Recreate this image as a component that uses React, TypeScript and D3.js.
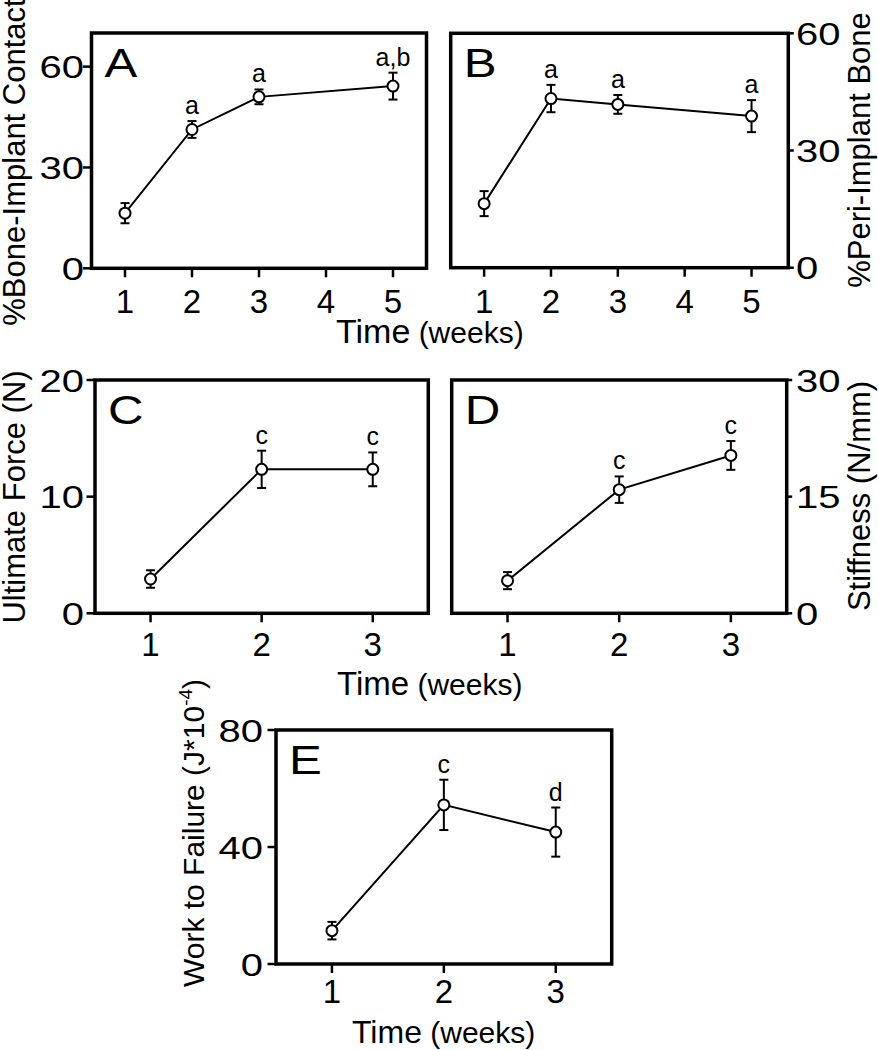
import React from "react";
import * as d3 from "d3";

// ---------- data ----------
const weeksAB = [1, 2, 3, 5];
const weeksCDE = [1, 2, 3];
const xTicksAB = [1, 2, 3, 4, 5];
const xTicksCDE = [1, 2, 3];

const boneContactMean = [16.4, 41.3, 51.0, 54.2];
const boneContactErr = [3.0, 2.5, 2.2, 4.0];
const boneContactSig = ["", "a", "a", "a,b"];

const periBoneMean = [16.4, 43.3, 41.8, 38.8];
const periBoneErr = [3.2, 3.5, 2.4, 4.1];
const periBoneSig = ["", "a", "a", "a"];

const forceMean = [2.94, 12.34, 12.34];
const forceErr = [0.75, 1.6, 1.45];
const forceSig = ["", "c", "c"];

const stiffMean = [4.2, 15.9, 20.3];
const stiffErr = [1.1, 1.7, 1.85];
const stiffSig = ["", "c", "c"];

const workMean = [11.4, 54.4, 45.1];
const workErr = [3.0, 8.6, 8.4];
const workSig = ["", "c", "d"];

const yTicksA = [0, 30, 60];
const yTicksB = [0, 30, 60];
const yTicksC = [0, 10, 20];
const yTicksD = [0, 15, 30];
const yTicksE = [0, 40, 80];

const FONT = "Arial, 'Liberation Sans', Helvetica, sans-serif";

type PanelProps = {
  frame: [number, number, number, number];
  xDomain: [number, number];
  xTicks: number[];
  yDomain: [number, number];
  yTicks: number[];
  side: "left" | "right";
  xs: number[];
  mean: number[];
  err: number[];
  sig: string[];
  letter: string;
  xTickBase: number;
  yLabelEnd: number;
};

function Panel(p: PanelProps) {
  const [l, t, r, b] = p.frame;
  const x = d3.scaleLinear().domain(p.xDomain).range([l, r]);
  const y = d3.scaleLinear().domain(p.yDomain).range([b, t]);
  const pts = p.xs.map((v, i) => [v, p.mean[i]] as [number, number]);
  const line = d3
    .line<[number, number]>()
    .x((d) => x(d[0]))
    .y((d) => y(d[1]));
  const axisX = p.side === "left" ? l : r;
  const tickDir = p.side === "left" ? -1 : 1;
  const tickLen = p.side === "left" ? 8.5 : 5.5;
  return (
    <g>
      <rect x={l} y={t} width={r - l} height={b - t} fill="none" stroke="#000" strokeWidth={3.5} />
      {p.yTicks.map((v) => (
        <g key={"yt" + v}>
          <line x1={axisX} x2={axisX + tickDir * tickLen} y1={y(v)} y2={y(v)} stroke="#000" strokeWidth={2.5} />
          <text
            transform={`translate(${p.yLabelEnd},${y(v) + 11.5}) scale(1.25,1)`}
            textAnchor={p.side === "left" ? "end" : "start"}
            fontFamily={FONT}
            fontSize={32}
          >
            {v}
          </text>
        </g>
      ))}
      {p.xTicks.map((v) => (
        <g key={"xt" + v}>
          <line x1={x(v)} x2={x(v)} y1={b} y2={b + 9} stroke="#000" strokeWidth={2.5} />
          <text x={x(v)} y={b + p.xTickBase} textAnchor="middle" fontFamily={FONT} fontSize={33}>
            {v}
          </text>
        </g>
      ))}
      <path d={line(pts) || ""} fill="none" stroke="#000" strokeWidth={2} />
      {pts.map((d, i) => {
        const cx = x(d[0]);
        const hi = y(d[1] + p.err[i]);
        const lo = y(d[1] - p.err[i]);
        return (
          <g key={"pt" + i}>
            <line x1={cx} x2={cx} y1={hi} y2={lo} stroke="#000" strokeWidth={2} />
            <line x1={cx - 4.5} x2={cx + 4.5} y1={hi} y2={hi} stroke="#000" strokeWidth={2} />
            <line x1={cx - 4.5} x2={cx + 4.5} y1={lo} y2={lo} stroke="#000" strokeWidth={2} />
            <circle cx={cx} cy={y(d[1])} r={5.5} fill="#fff" stroke="#000" strokeWidth={2} />
            {p.sig[i] ? (
              <text x={cx} y={hi - 7} textAnchor="middle" fontFamily={FONT} fontSize={25}>
                {p.sig[i]}
              </text>
            ) : null}
          </g>
        );
      })}
      <text
        transform={`translate(${l + 13},${t + 44}) scale(1.2,1)`}
        fontFamily={FONT}
        fontSize={41}
      >
        {p.letter}
      </text>
    </g>
  );
}

function TimeLabel({ x, y, fs }: { x: number; y: number; fs: number }) {
  return (
    <text x={x} y={y} fontFamily={FONT} fontSize={fs}>
      Time
      <tspan fontSize={30}> (weeks)</tspan>
    </text>
  );
}

export default function App() {
  return (
    <svg
      width={879}
      height={1050}
      style={{ position: "absolute", left: 0, top: 0, background: "#fff" }}
    >
      <rect x={0} y={0} width={879} height={1050} fill="#fff" />
      <Panel
        frame={[91.5, 33, 426.5, 268.3]}
        xDomain={[0.5, 5.5]}
        xTicks={xTicksAB}
        yDomain={[0, 70]}
        yTicks={yTicksA}
        side="left"
        xs={weeksAB}
        mean={boneContactMean}
        err={boneContactErr}
        sig={boneContactSig}
        letter="A"
        xTickBase={45}
        yLabelEnd={84}
      />
      <Panel
        frame={[450.7, 33.3, 788.3, 267.7]}
        xDomain={[0.5, 5.55]}
        xTicks={xTicksAB}
        yDomain={[0, 60]}
        yTicks={yTicksB}
        side="right"
        xs={weeksAB}
        mean={periBoneMean}
        err={periBoneErr}
        sig={periBoneSig}
        letter="B"
        xTickBase={45}
        yLabelEnd={796}
      />
      <Panel
        frame={[95, 380, 428.3, 613.3]}
        xDomain={[0.5, 3.5]}
        xTicks={xTicksCDE}
        yDomain={[0, 20]}
        yTicks={yTicksC}
        side="left"
        xs={weeksCDE}
        mean={forceMean}
        err={forceErr}
        sig={forceSig}
        letter="C"
        xTickBase={43}
        yLabelEnd={84}
      />
      <Panel
        frame={[451.7, 380, 786.7, 613.3]}
        xDomain={[0.5, 3.5]}
        xTicks={xTicksCDE}
        yDomain={[0, 30]}
        yTicks={yTicksD}
        side="right"
        xs={weeksCDE}
        mean={stiffMean}
        err={stiffErr}
        sig={stiffSig}
        letter="D"
        xTickBase={43}
        yLabelEnd={796}
      />
      <Panel
        frame={[276, 730, 611.7, 964]}
        xDomain={[0.5, 3.5]}
        xTicks={xTicksCDE}
        yDomain={[0, 80]}
        yTicks={yTicksE}
        side="left"
        xs={weeksCDE}
        mean={workMean}
        err={workErr}
        sig={workSig}
        letter="E"
        xTickBase={39}
        yLabelEnd={263}
      />

      {/* axis titles */}
      <text transform="translate(25,162) rotate(-90)" textAnchor="middle" fontFamily={FONT} fontSize={31}>
        %Bone-Implant Contact
      </text>
      <text transform="translate(870,150) rotate(-90)" textAnchor="middle" fontFamily={FONT} fontSize={31}>
        %Peri-Implant Bone
      </text>
      <text transform="translate(25,497) rotate(-90)" textAnchor="middle" fontFamily={FONT} fontSize={31}>
        Ultimate Force (N)
      </text>
      <text transform="translate(870,496) rotate(-90)" textAnchor="middle" fontFamily={FONT} fontSize={31}>
        Stiffness (N/mm)
      </text>
      <text transform="translate(204,833) rotate(-90)" textAnchor="middle" fontFamily={FONT} fontSize={30}>
        Work to Failure (J*10
        <tspan fontSize={19} dy={-12}>-4</tspan>
        <tspan dy={12}>)</tspan>
      </text>

      <TimeLabel x={336} y={343} fs={34} />
      <TimeLabel x={337} y={695} fs={33} />
      <TimeLabel x={352} y={1043} fs={32} />
    </svg>
  );
}
